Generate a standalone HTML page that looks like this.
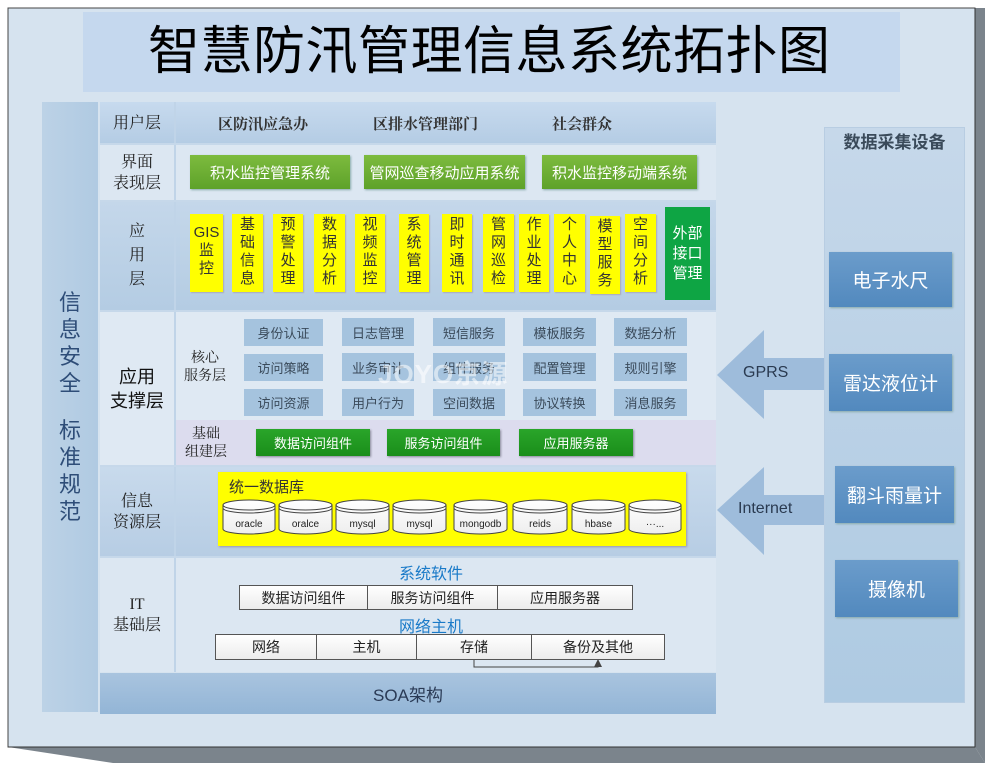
<!DOCTYPE html>
<html><head><meta charset="utf-8">
<style>
*{margin:0;padding:0;box-sizing:border-box}
body{width:987px;height:768px;background:#fff;position:relative;overflow:hidden;font-family:"Liberation Sans","Noto Sans CJK SC",sans-serif}
.a{position:absolute}
.c{display:flex;align-items:center;justify-content:center;text-align:center}
.ser{font-family:"Liberation Serif","Noto Serif CJK SC",serif}
.lab{color:#222;font-size:15px;line-height:21px}
.gb{background:linear-gradient(#7dbb3e,#5ea22a);color:#fff;font-size:15px;box-shadow:1px 1px 2px #8aa}
.yb{background:#ffff00;color:#333;font-size:15px;line-height:18px;padding-top:2px;align-items:flex-start;box-shadow:1px 1px 1px #aab}
.sb{background:#a5c3de;color:#3a4a5a;font-size:13px}
.dg{background:linear-gradient(#2aa52a,#1a8e1a);color:#fff;font-size:13px;box-shadow:1px 1px 2px #889}
.tb{background:linear-gradient(#fff,#ececec);border:1px solid #555;font-size:14px;color:#222}
.rb{background:linear-gradient(#6b9ccb,#5289be);color:#fff;font-size:19px;box-shadow:1px 1px 2px #8aa}
</style></head><body>
<svg class="a" style="left:0;top:0" width="987" height="768">
<polygon points="8,747 975,747 985,763 113,763" fill="#7b848c"/>
<polygon points="975,8 985,8 985,763 975,747" fill="#7b848c"/>
<rect x="8" y="8" width="967" height="739" fill="#d6e3ef" stroke="#444" stroke-width="1"/>
<line x1="975" y1="8" x2="975" y2="747" stroke="#333"/>
<line x1="8" y1="747" x2="975" y2="747" stroke="#333"/>
</svg>
<div class="a" style="left:83px;top:12px;width:817px;height:80px;background:#c5d8ee"></div>
<div class="a" style="left:148px;top:20px;font-size:52px;line-height:64px;color:#000;letter-spacing:0.5px;font-family:'Liberation Sans','Noto Sans CJK SC',sans-serif">智慧防汛管理信息系统拓扑图</div>

<div class="a c" style="left:42px;top:102px;width:56px;height:610px;background:linear-gradient(90deg,#bcd2e6,#b0cae2);flex-direction:column;color:#2e4d78;font-size:22px;line-height:27px">
<div>信<br>息<br>安<br>全</div><div style="height:20px"></div><div>标<br>准<br>规<br>范</div></div>

<div class="a" style="left:100px;top:102px;width:616px;height:42px;background:linear-gradient(#c7daee,#b4cce4)"></div>
<div class="a" style="left:100px;top:145px;width:616px;height:56px;background:#dce7f2"></div>
<div class="a" style="left:100px;top:202px;width:616px;height:108px;background:linear-gradient(#c4d7ea,#b4cce3)"></div>
<div class="a" style="left:100px;top:312px;width:616px;height:153px;background:#dfe9f3"></div>
<div class="a" style="left:176px;top:420px;width:540px;height:45px;background:#dcdcee"></div>
<div class="a" style="left:100px;top:467px;width:616px;height:89px;background:linear-gradient(#c8daec,#b7cde4)"></div>
<div class="a" style="left:100px;top:558px;width:616px;height:114px;background:#dce7f2"></div>
<div class="a c" style="left:100px;top:673px;width:616px;height:41px;background:linear-gradient(#a9c4df,#93b5d6);color:#2a3a55;font-size:17px">SOA架构</div>
<div class="a" style="left:174px;top:102px;width:2px;height:570px;background:#c0d4e8"></div>
<div class="a" style="left:100px;top:143px;width:616px;height:2px;background:#c6d8ea"></div>
<div class="a" style="left:100px;top:200px;width:616px;height:2px;background:#c6d8ea"></div>
<div class="a" style="left:100px;top:310px;width:616px;height:2px;background:#c6d8ea"></div>
<div class="a" style="left:100px;top:465px;width:616px;height:2px;background:#c6d8ea"></div>
<div class="a" style="left:100px;top:556px;width:616px;height:2px;background:#c6d8ea"></div>

<div class="a c ser lab" style="left:100px;top:102px;width:74px;height:42px;font-size:16px">用户层</div>
<div class="a c ser lab" style="left:100px;top:145px;width:74px;height:56px;font-size:16px">界面<br>表现层</div>
<div class="a c ser lab" style="left:100px;top:202px;width:74px;height:108px;font-size:16px;line-height:24px">应<br>用<br>层</div>
<div class="a c lab" style="left:100px;top:312px;width:74px;height:153px;font-size:18px;line-height:24px;color:#111">应用<br>支撑层</div>
<div class="a c ser lab" style="left:100px;top:467px;width:74px;height:89px;font-size:16px">信息<br>资源层</div>
<div class="a c ser lab" style="left:100px;top:558px;width:74px;height:114px;font-size:16px">IT<br>基础层</div>

<div class="a ser" style="left:218px;top:113px;font-size:15px;font-weight:bold;color:#333">区防汛应急办</div>
<div class="a ser" style="left:373px;top:113px;font-size:15px;font-weight:bold;color:#333">区排水管理部门</div>
<div class="a ser" style="left:552px;top:113px;font-size:15px;font-weight:bold;color:#333">社会群众</div>

<div class="a c gb" style="left:190px;top:155px;width:160px;height:34px">积水监控管理系统</div>
<div class="a c gb" style="left:364px;top:155px;width:161px;height:34px">管网巡查移动应用系统</div>
<div class="a c gb" style="left:542px;top:155px;width:155px;height:34px">积水监控移动端系统</div>

<div class="a c yb" style="left:190px;top:214px;width:33px;height:78px;padding-top:10px">GIS<br>监<br>控</div>
<div class="a c yb" style="left:232px;top:214px;width:31px;height:78px">基<br>础<br>信<br>息</div>
<div class="a c yb" style="left:273px;top:214px;width:30px;height:78px">预<br>警<br>处<br>理</div>
<div class="a c yb" style="left:314px;top:214px;width:31px;height:78px">数<br>据<br>分<br>析</div>
<div class="a c yb" style="left:355px;top:214px;width:30px;height:78px">视<br>频<br>监<br>控</div>
<div class="a c yb" style="left:399px;top:214px;width:30px;height:78px">系<br>统<br>管<br>理</div>
<div class="a c yb" style="left:442px;top:214px;width:30px;height:78px">即<br>时<br>通<br>讯</div>
<div class="a c yb" style="left:483px;top:214px;width:31px;height:78px">管<br>网<br>巡<br>检</div>
<div class="a c yb" style="left:519px;top:214px;width:30px;height:78px">作<br>业<br>处<br>理</div>
<div class="a c yb" style="left:554px;top:214px;width:31px;height:78px">个<br>人<br>中<br>心</div>
<div class="a c yb" style="left:590px;top:216px;width:30px;height:78px">模<br>型<br>服<br>务</div>
<div class="a c yb" style="left:625px;top:214px;width:31px;height:78px">空<br>间<br>分<br>析</div>
<div class="a c" style="left:665px;top:207px;width:45px;height:93px;background:#0ea544;color:#fff;font-size:15px;line-height:20px">外部<br>接口<br>管理</div>

<div class="a c ser lab" style="left:180px;top:350px;width:50px;font-size:14px;line-height:18px">核心<br>服务层</div>
<div class="a c sb" style="left:244px;top:319px;width:79px;height:27px">身份认证</div>
<div class="a c sb" style="left:342px;top:318px;width:72px;height:28px">日志管理</div>
<div class="a c sb" style="left:433px;top:318px;width:72px;height:28px">短信服务</div>
<div class="a c sb" style="left:523px;top:318px;width:73px;height:28px">模板服务</div>
<div class="a c sb" style="left:614px;top:318px;width:73px;height:28px">数据分析</div>
<div class="a c sb" style="left:244px;top:354px;width:79px;height:27px">访问策略</div>
<div class="a c sb" style="left:342px;top:353px;width:72px;height:28px">业务审计</div>
<div class="a c sb" style="left:433px;top:353px;width:72px;height:28px">组件服务</div>
<div class="a c sb" style="left:523px;top:353px;width:73px;height:28px">配置管理</div>
<div class="a c sb" style="left:614px;top:353px;width:73px;height:28px">规则引擎</div>
<div class="a c sb" style="left:244px;top:389px;width:79px;height:27px">访问资源</div>
<div class="a c sb" style="left:342px;top:389px;width:72px;height:27px">用户行为</div>
<div class="a c sb" style="left:433px;top:389px;width:72px;height:27px">空间数据</div>
<div class="a c sb" style="left:523px;top:389px;width:73px;height:27px">协议转换</div>
<div class="a c sb" style="left:614px;top:389px;width:73px;height:27px">消息服务</div>
<div class="a" style="left:378px;top:354px;font-size:26px;font-weight:bold;color:rgba(255,255,255,0.55);letter-spacing:1px">JOYO京源</div>

<div class="a c ser lab" style="left:180px;top:426px;width:52px;font-size:14px;line-height:18px">基础<br>组建层</div>
<div class="a c dg" style="left:256px;top:429px;width:114px;height:27px">数据访问组件</div>
<div class="a c dg" style="left:387px;top:429px;width:113px;height:27px">服务访问组件</div>
<div class="a c dg" style="left:519px;top:429px;width:114px;height:27px">应用服务器</div>

<div class="a" style="left:218px;top:472px;width:468px;height:74px;background:#ffff00;box-shadow:1px 1px 2px #99a"></div>
<div class="a" style="left:229px;top:476px;font-size:15px;color:#333">统一数据库</div>
<svg class="a" style="left:0;top:0" width="987" height="768">
<defs><linearGradient id="cg" x1="0" y1="0" x2="0" y2="1"><stop offset="0" stop-color="#fff"/><stop offset="1" stop-color="#eee"/></linearGradient></defs>
<g stroke="#444" stroke-width="1" fill="url(#cg)">
<path d="M223,505 v24 a26,5 0 0 0 52,0 v-24 a26,5 0 0 0 -52,0 a26,5 0 0 0 52,0 M223,508 a26,5 0 0 0 52,0"/>
<path d="M279,505 v24 a26.5,5 0 0 0 53,0 v-24 a26.5,5 0 0 0 -53,0 a26.5,5 0 0 0 53,0 M279,508 a26.5,5 0 0 0 53,0"/>
<path d="M336,505 v24 a26.5,5 0 0 0 53,0 v-24 a26.5,5 0 0 0 -53,0 a26.5,5 0 0 0 53,0 M336,508 a26.5,5 0 0 0 53,0"/>
<path d="M393,505 v24 a26.5,5 0 0 0 53,0 v-24 a26.5,5 0 0 0 -53,0 a26.5,5 0 0 0 53,0 M393,508 a26.5,5 0 0 0 53,0"/>
<path d="M454,505 v24 a26.5,5 0 0 0 53,0 v-24 a26.5,5 0 0 0 -53,0 a26.5,5 0 0 0 53,0 M454,508 a26.5,5 0 0 0 53,0"/>
<path d="M513,505 v24 a27,5 0 0 0 54,0 v-24 a27,5 0 0 0 -54,0 a27,5 0 0 0 54,0 M513,508 a27,5 0 0 0 54,0"/>
<path d="M572,505 v24 a26.5,5 0 0 0 53,0 v-24 a26.5,5 0 0 0 -53,0 a26.5,5 0 0 0 53,0 M572,508 a26.5,5 0 0 0 53,0"/>
<path d="M629,505 v24 a26,5 0 0 0 52,0 v-24 a26,5 0 0 0 -52,0 a26,5 0 0 0 52,0 M629,508 a26,5 0 0 0 52,0"/>
</g>
<g font-family="Liberation Sans, sans-serif" font-size="10" fill="#222" text-anchor="middle">
<text x="249" y="527">oracle</text><text x="305.5" y="527">oralce</text><text x="362.5" y="527">mysql</text><text x="419.5" y="527">mysql</text>
<text x="480.5" y="527">mongodb</text><text x="540" y="527">reids</text><text x="598.5" y="527">hbase</text><text x="655" y="527">···...</text>
</g>
<polyline points="474,660 474,667 598,667 598,661" fill="none" stroke="#444"/>
<polygon points="594,667 602,667 598,659" fill="#444"/>
<polygon points="717,375 764,330 764,358 824,358 824,390 764,390 764,419" fill="#9ebcdb"/>
<polygon points="717,510 764,467 764,495 824,495 824,525 764,525 764,555" fill="#9ebcdb"/>
</svg>

<div class="a c" style="left:376px;top:562px;width:110px;height:20px;color:#1a7ac8;font-size:16px">系统软件</div>
<div class="a" style="left:239px;top:585px;width:394px;height:25px;display:flex">
<div class="c tb" style="width:129px">数据访问组件</div><div class="c tb" style="width:130px;border-left:none">服务访问组件</div><div class="c tb" style="width:135px;border-left:none">应用服务器</div></div>
<div class="a c" style="left:376px;top:615px;width:110px;height:20px;color:#1a7ac8;font-size:16px">网络主机</div>
<div class="a" style="left:215px;top:634px;width:450px;height:26px;display:flex">
<div class="c tb" style="width:102px">网络</div><div class="c tb" style="width:100px;border-left:none">主机</div><div class="c tb" style="width:115px;border-left:none">存储</div><div class="c tb" style="width:133px;border-left:none">备份及其他</div></div>

<div class="a" style="left:824px;top:127px;width:141px;height:576px;background:linear-gradient(#c6d8ea,#aecae2);border:1px solid #b8cde2"></div>
<div class="a c" style="left:824px;top:128px;width:141px;height:24px;font-size:17px;font-weight:bold;color:#3a4a5a">数据采集设备</div>
<div class="a c rb" style="left:829px;top:252px;width:123px;height:55px">电子水尺</div>
<div class="a c rb" style="left:829px;top:354px;width:123px;height:57px">雷达液位计</div>
<div class="a c rb" style="left:835px;top:466px;width:119px;height:57px">翻斗雨量计</div>
<div class="a c rb" style="left:835px;top:560px;width:123px;height:57px">摄像机</div>
<div class="a" style="left:743px;top:364px;font-size:16px;color:#2a3a50">GPRS</div>
<div class="a" style="left:738px;top:500px;font-size:16px;color:#2a3a50">Internet</div>
</body></html>
